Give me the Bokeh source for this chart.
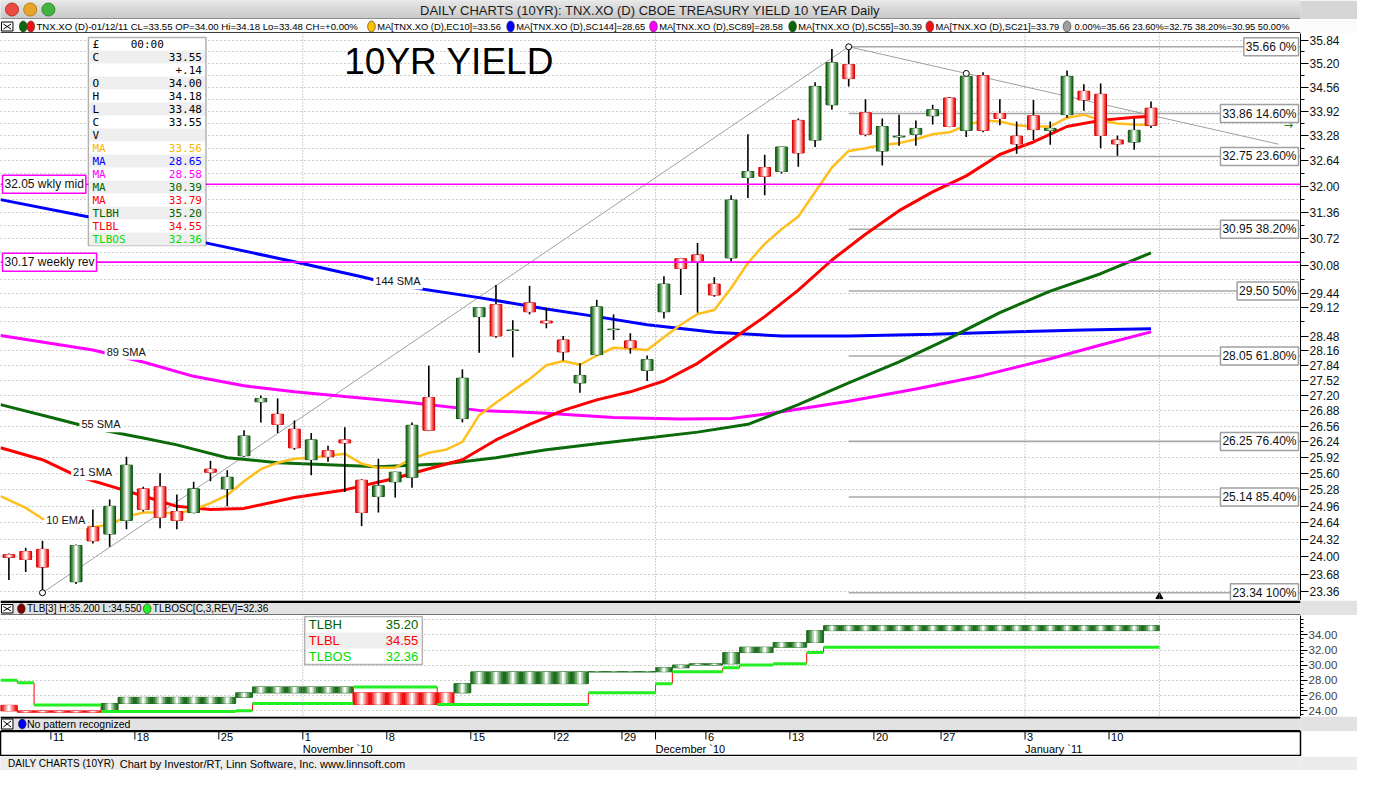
import numpy as np
import pandas as pd
from bokeh.plotting import figure
from bokeh.models import (Range1d, FixedTicker, PrintfTickFormatter, Label, LabelSet,
                          BoxAnnotation, ColumnDataSource, Span)
from bokeh.layouts import column
from bokeh.embed import file_html
from bokeh.resources import INLINE
from bokeh.core.properties import value

# ---------------- data ----------------
dates = ["2010-10-06", "2010-10-07", "2010-10-08", "2010-10-11", "2010-10-12", "2010-10-13", "2010-10-14",
         "2010-10-15", "2010-10-18", "2010-10-19", "2010-10-20", "2010-10-21", "2010-10-22", "2010-10-25",
         "2010-10-26", "2010-10-27", "2010-10-28", "2010-10-29",
         "2010-11-01", "2010-11-02", "2010-11-03", "2010-11-04", "2010-11-05", "2010-11-08", "2010-11-09",
         "2010-11-10", "2010-11-11", "2010-11-12", "2010-11-15", "2010-11-16", "2010-11-17", "2010-11-18",
         "2010-11-19", "2010-11-22", "2010-11-23", "2010-11-24", "2010-11-26", "2010-11-29", "2010-11-30",
         "2010-12-01", "2010-12-02", "2010-12-03", "2010-12-06", "2010-12-07", "2010-12-08", "2010-12-09",
         "2010-12-10", "2010-12-13", "2010-12-14", "2010-12-15", "2010-12-16", "2010-12-17", "2010-12-20",
         "2010-12-21", "2010-12-22", "2010-12-23", "2010-12-27", "2010-12-28", "2010-12-29", "2010-12-30",
         "2010-12-31",
         "2011-01-03", "2011-01-04", "2011-01-05", "2011-01-06", "2011-01-07", "2011-01-10", "2011-01-11",
         "2011-01-12"]

opens = [24.04, 24.10, 24.14, None, 23.54, 24.56, 24.43, 24.69, 25.30, 25.34, 24.86, 24.84, 25.69, 25.30,
         25.96, 27.07, 26.81, 26.50,
         25.88, 26.06, 26.28, 25.47, 25.15, 25.44, 25.53, 27.16, None, 26.72, 28.92, 29.19, 28.61, 29.23,
         28.82, 28.40, 27.47, 28.08, 28.63, 28.38, 27.74,
         29.03, 30.25, 30.34, 29.66, 30.27, 32.22, 32.47, 32.37, 33.68, 33.17, 34.09, 35.17, 33.88, 32.89,
         33.25, 33.32, 33.80, 34.27, 33.42, 34.87, 33.86, 33.27,
         33.80, 33.42, 33.83, 34.45, 34.37, 33.17, 33.12, 34.00]
highs = [24.06, 24.17, 24.30, None, 24.23, 24.90, 25.09, 25.94, 25.34, 25.61, 25.19, 25.44, 25.86, 25.67,
         26.48, 27.20, 27.14, 26.68,
         26.42, 26.16, 26.54, 25.49, 25.90, 25.64, 26.64, 27.84, None, 27.76, 29.13, 29.64, 28.84, 29.62,
         29.12, 28.49, 27.89, 29.30, 28.97, 28.55, 28.06,
         29.84, 30.27, 30.62, 29.82, 31.78, 33.32, 32.79, 33.00, 33.73, 34.69, 35.60, 35.66, 34.24, 33.73,
         33.83, 33.68, 34.09, 34.30, 34.93, 34.96, 34.24, 33.65,
         34.22, 33.65, 35.01, 34.64, 34.66, 33.29, 33.73, 34.18]
lows = [23.57, 23.72, 23.34, None, 23.50, 24.25, 24.19, 24.52, 24.86, 24.54, 24.52, 24.82, 25.45, 24.96,
        25.94, 26.64, 26.42, 26.08,
        25.57, 25.84, 25.24, 24.58, 24.84, 25.13, 25.32, 26.46, None, 26.64, 28.12, 28.45, 28.02, 28.97,
        28.66, 27.95, 27.26, 28.06, 28.40, 28.10, 27.51,
        28.88, 29.41, 29.01, 29.37, 30.18, 31.71, 31.78, 32.32, 32.49, 32.99, 33.96, 34.58, 33.27, 32.52,
        33.02, 33.02, 33.57, 33.50, 33.25, 33.37, 33.55, 32.82,
        33.17, 33.05, 33.75, 33.93, 32.96, 32.77, 32.92, 33.48]
closes = [23.99, 23.95, 23.81, None, 24.21, 24.30, 24.96, 25.77, 24.90, 24.75, 24.69, 25.30, 25.63, 25.53,
          26.36, 27.14, 26.60, 26.12,
          26.28, 25.94, 26.22, 24.84, 25.36, 25.63, 26.58, 26.48, None, 27.57, 29.12, 28.49, 28.62, 29.03,
          28.78, 28.14, 27.63, 29.14, 28.64, 28.23, 27.97,
          29.66, 30.02, 30.18, 29.41, 31.66, 32.37, 32.25, 32.99, 32.84, 34.58, 35.22, 34.79, 33.32, 33.52,
          33.27, 33.47, 33.96, 33.52, 34.85, 33.42, 33.73, 33.07,
          33.44, 33.47, 34.85, 34.22, 33.29, 33.07, 33.42, 33.55]

# moving averages (x = slot index)
ema10_i = [-0.5, 1, 2, 4, 5, 6, 7, 8, 9, 10, 11, 12, 13, 14, 15, 16, 17, 18, 19, 20, 21, 22, 23, 24, 25, 26,
           27, 28, 29, 30, 31, 32, 33, 34, 35, 36, 37, 38, 39, 40, 41, 42, 43, 44, 45, 46, 47, 48, 49, 50, 51,
           52, 53, 54, 55, 56, 57, 58, 59, 60, 61, 62, 63, 64, 65, 66, 67, 68]
ema10_v = [25.16, 24.93, 24.72, 24.56, 24.56, 24.61, 24.76, 24.84, 24.84, 24.82, 24.90, 25.02, 25.18, 25.45,
           25.69, 25.82, 25.90, 25.92, 25.96, 26.00, 25.80, 25.72, 25.72, 25.90, 26.02, 26.08, 26.24, 26.79,
           27.05, 27.30, 27.55, 27.85, 27.94, 27.86, 28.06, 28.23, 28.21, 28.18, 28.46, 28.74, 28.98, 29.07,
           29.57, 30.15, 30.60, 30.95, 31.26, 31.86, 32.47, 32.89, 32.96, 33.04, 33.09, 33.19, 33.32, 33.37,
           33.55, 33.68, 33.65, 33.55, 33.52, 33.52, 33.75, 33.83, 33.68, 33.60, 33.57, 33.56]
sma21_i = [-0.5, 2, 4, 6, 8, 10, 12, 14, 17, 20, 23, 25, 27, 29, 31, 33, 35, 37, 39, 41, 43, 45, 47, 49, 51,
           53, 55, 57, 59, 61, 63, 65, 67, 68]
sma21_v = [26.12, 25.88, 25.56, 25.36, 25.16, 24.96, 24.90, 24.92, 25.13, 25.28, 25.51, 25.70, 25.88, 26.28,
           26.60, 26.89, 27.11, 27.28, 27.51, 27.89, 28.40, 28.92, 29.52, 30.22, 30.83, 31.40, 31.86, 32.26,
           32.80, 33.12, 33.52, 33.68, 33.76, 33.79]
sma55_i = [-0.5, 3, 5, 8, 10, 13, 16, 19, 22, 26, 29, 32, 35, 38, 41, 44, 47, 50, 53, 56, 59, 62, 65, 68]
sma55_v = [27.01, 26.70, 26.52, 26.32, 26.18, 25.92, 25.82, 25.78, 25.74, 25.80, 25.92, 26.08, 26.20, 26.32,
           26.44, 26.60, 27.01, 27.47, 27.92, 28.44, 29.01, 29.50, 29.90, 30.39]
sma89_i = [-0.5, 5, 8, 11, 14, 17, 20, 24, 28, 32, 36, 40, 43, 46, 50, 54, 58, 62, 65, 68]
sma89_v = [28.50, 28.18, 27.92, 27.61, 27.41, 27.28, 27.18, 27.05, 26.89, 26.83, 26.74, 26.71, 26.72, 26.86,
           27.08, 27.34, 27.63, 27.99, 28.29, 28.58]
sma144_i = [-0.5, 5, 12, 17, 21, 23, 28, 32, 35, 38, 42, 46, 50, 55, 60, 64, 68]
sma144_v = [31.67, 31.23, 30.60, 30.18, 29.83, 29.64, 29.35, 29.09, 28.92, 28.74, 28.57, 28.49, 28.49, 28.53,
            28.58, 28.62, 28.65]

# fibonacci retracement and weekly levels
fib_pcts = ["0%", "14.60%", "23.60%", "38.20%", "50%", "61.80%", "76.40%", "85.40%", "100%"]
fib_vals = [35.66, 33.86, 32.75, 30.95, 29.50, 28.05, 26.25, 25.14, 23.34]
level_vals = [32.05, 30.17]
level_names = ["wkly mid", "weekly rev"]
trend_dates = ["2010-10-08", "2010-12-16", "2010-12-28"]

# three line break boxes (lower panel)
tlb_start = [0, 1, 6, 7, 14, 15, 21, 27, 28, 35, 39, 40, 41, 43, 44, 46, 48, 49]
tlb_end = [0, 5, 6, 13, 14, 20, 26, 27, 34, 38, 39, 40, 42, 43, 45, 47, 48, 68]
tlb_from = [24.72, 23.99, 23.99, 24.96, 25.77, 26.36, 26.36, 26.36, 27.57, 29.12, 29.14, 29.66, 30.02, 30.18,
            31.66, 32.37, 32.99, 34.55]
tlb_to = [23.99, 23.81, 24.96, 25.77, 26.36, 27.14, 24.84, 27.57, 29.12, 29.14, 29.66, 30.02, 30.18, 31.66,
          32.37, 32.99, 34.55, 35.20]
tlbos_start = [0, 1, 2, 6, 14, 15, 21, 26, 35, 39, 40, 43, 44, 46, 48, 49]
tlbos_end = [0, 1, 5, 13, 14, 20, 25, 34, 38, 39, 42, 43, 45, 47, 48, 68]
tlbos_val = [28.03, 27.68, 24.76, 23.90, 24.00, 24.96, 27.14, 24.84, 26.36, 27.57, 29.14, 29.66, 30.02, 30.18,
             31.66, 32.36]

# axis tick labels
main_tick_labels = [35.84, 35.20, 34.56, 33.92, 33.28, 32.64, 32.00, 31.36, 30.72, 30.08, 29.44, 29.12,
                    28.48, 28.16, 27.84, 27.52, 27.20, 26.88, 26.56, 26.24, 25.92, 25.60, 25.28, 24.96,
                    24.64, 24.32, 24.00, 23.68, 23.36]
low_tick_labels = [24.0, 26.0, 28.0, 30.0, 32.0, 34.0]

info_labels = ["C", "", "O", "H", "L", "C", "V", "MA", "MA", "MA", "MA", "MA", "TLBH", "TLBL", "TLBOS"]
info_values = ["33.55", "+.14", "34.00", "34.18", "33.48", "33.55", "", "33.56", "28.65", "28.58", "30.39",
               "33.79", "35.20", "34.55", "32.36"]
info_colors = ["black"] * 7 + ["#f5b800", "#0000ff", "#ff00ff", "#006400", "#ff0000", "#006400", "#ff0000",
                               "#00dd00"]

# ---------------- layout constants ----------------
W, RA = 1357, 57
FW = W - RA
SX = FW / 1316.0
H_TITLE, H_LEG, H_MAIN, H_LHDR, H_LOW, H_PAT, H_AX, H_STAT = 19, 14, 567, 15, 101, 15, 25, 14
FONT = "Liberation Sans"
MONO = "DejaVu Sans Mono"
XR = Range1d(-0.5, 76.9)

C_EMA, C_144, C_89, C_55, C_21 = "#ffbf1f", "#0000ff", "#ff00ff", "#0b6b0b", "#ff0000"
C_FIB = "#a8a8a8"

idx = np.arange(len(dates))
dt = pd.to_datetime(pd.Series(dates))
df = pd.DataFrame(dict(i=idx, o=opens, h=highs, l=lows, c=closes)).dropna()
up = df[df.c >= df.o]
dn = df[df.c < df.o]
month_first = idx[(dt.dt.month != dt.dt.month.shift(1)).values][1:]
mondays = idx[(dt.dt.weekday == 0).values]
last_edge = len(dates) - 0.5
vlines = [m - 0.5 for m in month_first] + [last_edge]
grid_vals = [round(23.36 + 0.32 * k, 2) for k in range(40)]
minor_vals = [g for g in grid_vals if g not in main_tick_labels]


def base_fig(h, **kw):
    f = figure(width=W, height=h, output_backend="svg", toolbar_location=None,
               min_border_left=0, min_border_top=0, min_border_bottom=0,
               border_fill_color="white", background_fill_color="white", **kw)
    return f


# ---------------- main price panel ----------------
p = base_fig(H_MAIN, x_range=XR, y_range=Range1d(23.20, 36.03), y_axis_type="log",
             y_axis_location="right", x_axis_location=None, min_border_right=RA, outline_line_color=None)
p.xgrid.visible = False
p.ygrid.ticker = FixedTicker(ticks=grid_vals)
p.ygrid.grid_line_color = "#9c9c9c"
p.ygrid.grid_line_dash = "1 3"
ya = p.yaxis[0]
ya.ticker = FixedTicker(ticks=main_tick_labels, minor_ticks=minor_vals)
ya.formatter = PrintfTickFormatter(format="%.2f")
ya.major_label_text_font = FONT
ya.major_label_text_font_size = "12px"
ya.major_label_text_color = "#111111"
ya.major_label_standoff = 1
ya.major_tick_out = 8
ya.major_tick_in = 0
ya.minor_tick_out = 4
ya.minor_tick_in = 0
ya.axis_line_color = "black"
ya.major_tick_line_color = "black"
ya.minor_tick_line_color = "black"

for v in vlines:
    p.add_layout(Span(location=v, dimension="height", line_color="#a0a0a0", line_dash="1 2", line_width=1))
for v in level_vals:
    p.add_layout(Span(location=v, dimension="width", line_color="#ff00ff", line_width=1.6))

# fib lines
i_lo = int(idx[dates.index(trend_dates[0])])
i_hi = int(idx[dates.index(trend_dates[1])])
i_h2 = int(idx[dates.index(trend_dates[2])])
v_lo = lows[i_lo]
v_hi = highs[i_hi]
v_h2 = highs[i_h2]
p.segment(x0=[i_hi] * len(fib_vals), x1=[XR.end] * len(fib_vals), y0=fib_vals, y1=fib_vals,
          line_color=C_FIB, line_width=1.6)
# trend lines
x_ext = 75.6
slope = (np.log(v_h2) - np.log(v_hi)) / (i_h2 - i_hi)
v_ext = float(np.exp(np.log(v_hi) + slope * (x_ext - i_hi)))
p.line([i_lo, i_hi], [v_lo, v_hi], line_color="#a0a0a0", line_width=1)
p.line([i_hi, x_ext], [v_hi, v_ext], line_color="#a0a0a0", line_width=1)

# moving averages
p.line(sma144_i, sma144_v, line_color=C_144, line_width=3)
p.line(sma89_i, sma89_v, line_color=C_89, line_width=3)
p.line(sma55_i, sma55_v, line_color=C_55, line_width=3)
p.line(sma21_i, sma21_v, line_color=C_21, line_width=3)
p.line(ema10_i, ema10_v, line_color=C_EMA, line_width=2.5)

# candles
p.segment(x0="i", x1="i", y0="l", y1="h", source=ColumnDataSource(df), line_color="black", line_width=1.6)
green_layers = [(0.70, "#1f6c1f"), (0.56, "#3f863f"), (0.42, "#79ad79"), (0.28, "#b9d6b9"), (0.13, "#ffffff")]
red_layers = [(0.70, "#ee1010"), (0.56, "#f24646"), (0.42, "#f68484"), (0.28, "#fbc2c2"), (0.13, "#ffffff")]
for k, (w, col) in enumerate(green_layers):
    p.vbar(x=up.i, bottom=up.o, top=up.c, width=w, fill_color=col,
           line_color="#0d4a0d" if k == 0 else None, line_width=1)
for k, (w, col) in enumerate(red_layers):
    p.vbar(x=dn.i, bottom=dn.c, top=dn.o, width=w, fill_color=col,
           line_color="#d00000" if k == 0 else None, line_width=1)

# trend pivots
p.scatter([i_lo, i_hi, i_h2], [v_lo, v_hi, v_h2], size=6, marker="circle", fill_color="white",
          line_color="black", line_width=1)
p.scatter([last_edge], [23.27], marker="triangle", size=7, fill_color="black", line_color="black")

# MA labels
for txt_, xi, yv in [("144 SMA", 21.7, 29.72), ("89 SMA", 5.7, 28.14), ("55 SMA", 4.2, 26.60),
                     ("21 SMA", 3.7, 25.63), ("10 EMA", 2.1, 24.69)]:
    p.add_layout(Label(x=xi, y=yv, text=txt_, text_font=FONT, text_font_size="11px", text_color="#111111",
                       text_baseline="middle", text_align="left", background_fill_color="white",
                       padding=2))

# fib labels
for v, pc in zip(fib_vals, fib_pcts):
    p.add_layout(Label(x=XR.end, x_offset=-2, y=v, text="%.2f %s" % (v, pc), text_font=FONT,
                       text_font_size="12px", text_color="#111111", text_align="right",
                       text_baseline="middle", background_fill_color="white", border_line_color="#a0a0a0",
                       border_line_width=1.5, padding=2))
for v, nm in zip(level_vals, level_names):
    p.add_layout(Label(x=XR.start, x_offset=2, y=v, text="%.2f %s" % (v, nm), text_font=FONT,
                       text_font_size="12px", text_color="#111111", text_align="left",
                       text_baseline="middle", background_fill_color="white", border_line_color="#ff00ff",
                       border_line_width=1.5, padding=2))

# title text
p.add_layout(Label(x=348 * SX, y=H_MAIN - 28, x_units="screen", y_units="screen", text="10YR YIELD",
                   text_font=FONT, text_font_size="37px", text_color="black", text_baseline="middle"))

# last price tag
p.add_layout(Label(x=FW + 7, x_units="screen", y=closes[-1], text="%.2f" % closes[-1], text_font=FONT,
                   text_font_size="12px", text_color="white", text_baseline="middle",
                   background_fill_color="black", padding=1))
p.add_layout(Label(x=FW + 0, x_units="screen", y=closes[-1], text="\u25C0", text_font="DejaVu Sans",
                   text_font_size="10px", text_color="#1e7e1e", text_baseline="middle"))
p.add_layout(Label(x=75.9, y=closes[-1], text="\u2192", text_font="DejaVu Sans", text_font_size="11px",
                   text_color="#1e7e1e", text_baseline="middle"))
p.add_layout(Label(x=FW + 45, x_units="screen", y=H_MAIN - 12, y_units="screen", text="A",
                   text_font=FONT, text_font_size="11px", text_color="black", border_line_color="black",
                   background_fill_color="white", padding=1))

# info box
bx0, bx1 = 89 * SX, 208 * SX
ytop = H_MAIN - 4
rh = 13
p.add_layout(BoxAnnotation(left=bx0, right=bx1, top=ytop, bottom=ytop - 16 * rh,
                           left_units="screen", right_units="screen", top_units="screen",
                           bottom_units="screen", fill_color="white", fill_alpha=1,
                           line_color="black", line_width=1.5))
for r in range(1, 16, 2):
    p.add_layout(BoxAnnotation(left=bx0 + 1, right=bx1 - 1, top=ytop - r * rh, bottom=ytop - (r + 1) * rh,
                               left_units="screen", right_units="screen", top_units="screen",
                               bottom_units="screen", fill_color="#efefef", fill_alpha=1, line_color=None))
rows_y = [ytop - rh * (k + 1) - rh / 2 for k in range(len(info_labels))]
src_l = ColumnDataSource(dict(x=[bx0 + 4] * len(info_labels), y=rows_y, t=info_labels, c=info_colors))
src_v = ColumnDataSource(dict(x=[bx1 - 4] * len(info_values), y=rows_y, t=info_values, c=info_colors))
p.add_layout(LabelSet(x="x", y="y", text="t", text_color="c", source=src_l, x_units="screen",
                      y_units="screen", text_font=value(MONO), text_font_size=value("11px"),
                      text_baseline="middle", text_align="left"))
p.add_layout(LabelSet(x="x", y="y", text="t", text_color="c", source=src_v, x_units="screen",
                      y_units="screen", text_font=value(MONO), text_font_size=value("11px"),
                      text_baseline="middle", text_align="right"))
p.add_layout(Label(x=bx0 + 4, y=ytop - rh / 2, x_units="screen", y_units="screen", text="\u00A3",
                   text_font=MONO, text_font_size="11px", text_baseline="middle", text_color="black"))
p.add_layout(Label(x=(bx0 + bx1) / 2, y=ytop - rh / 2, x_units="screen", y_units="screen", text="00:00",
                   text_font=MONO, text_font_size="11px", text_baseline="middle", text_align="center",
                   text_color="black"))

# ---------------- lower TLB panel ----------------
q = base_fig(H_LOW, x_range=XR, y_range=Range1d(23.25, 36.54), y_axis_location="right",
             x_axis_location=None, min_border_right=RA, outline_line_color=None)
q.xgrid.visible = False
q.ygrid.ticker = FixedTicker(ticks=[24, 26, 28, 30, 32, 34, 36])
q.ygrid.grid_line_color = "#9c9c9c"
q.ygrid.grid_line_dash = "1 3"
qa = q.yaxis[0]
qa.ticker = FixedTicker(ticks=low_tick_labels, minor_ticks=[23.5 + 0.5 * k for k in range(26)])
qa.formatter = PrintfTickFormatter(format="%.2f")
qa.major_label_text_font = FONT
qa.major_label_text_font_size = "11.5px"
qa.major_label_text_baseline = "bottom"
qa.major_label_standoff = 1
qa.major_tick_out = 7
qa.major_tick_in = 0
qa.minor_tick_out = 3
qa.minor_tick_in = 0
qa.axis_line_color = "black"
for v in vlines:
    q.add_layout(Span(location=v, dimension="height", line_color="#a0a0a0", line_dash="1 2", line_width=1))
q.add_layout(Label(x=FW + 45, x_units="screen", y=H_LOW - 14, y_units="screen", text="A",
                   text_font=FONT, text_font_size="11px", text_color="black", border_line_color="black",
                   background_fill_color="white", padding=1))

rows_up, rows_dn = dict(x=[], b=[], t=[]), dict(x=[], b=[], t=[])
for s, e, a, b in zip(tlb_start, tlb_end, tlb_from, tlb_to):
    tgt = rows_up if b > a else rows_dn
    for k in range(s, e + 1):
        tgt["x"].append(k)
        tgt["b"].append(min(a, b))
        tgt["t"].append(max(a, b))
g2 = [(1.0, "#1f6c1f"), (0.78, "#3f863f"), (0.56, "#79ad79"), (0.34, "#b9d6b9"), (0.14, "#ffffff")]
r2 = [(1.0, "#ee1010"), (0.78, "#f24646"), (0.56, "#f68484"), (0.34, "#fbc2c2"), (0.14, "#ffffff")]
for k, (w, col) in enumerate(g2):
    q.vbar(x=rows_up["x"], bottom=rows_up["b"], top=rows_up["t"], width=w, fill_color=col,
           line_color="#1f6c1f" if k == 0 else None, line_width=1)
for k, (w, col) in enumerate(r2):
    q.vbar(x=rows_dn["x"], bottom=rows_dn["b"], top=rows_dn["t"], width=w, fill_color=col,
           line_color="#ee1010" if k == 0 else None, line_width=1)
q.segment(x0=[s - 0.5 for s in tlbos_start[1:]], x1=[s - 0.5 for s in tlbos_start[1:]],
          y0=tlbos_val[:-1], y1=tlbos_val[1:], line_color="#ff0000", line_width=1)
q.segment(x0=[s - 0.5 for s in tlbos_start], x1=[e + 0.5 for e in tlbos_end], y0=tlbos_val, y1=tlbos_val,
          line_color="#22ee22", line_width=3)

lx0, lx1 = 308 * SX, 427 * SX
ltop = H_LOW - 1
lrh = 16
q.add_layout(BoxAnnotation(left=lx0, right=lx1, top=ltop, bottom=ltop - 3 * lrh, left_units="screen",
                           right_units="screen", top_units="screen", bottom_units="screen",
                           fill_color="white", fill_alpha=1, line_color="black", line_width=1.5))
q.add_layout(BoxAnnotation(left=lx0 + 1, right=lx1 - 1, top=ltop - lrh, bottom=ltop - 2 * lrh,
                           left_units="screen", right_units="screen", top_units="screen",
                           bottom_units="screen", fill_color="#efefef", fill_alpha=1, line_color=None))
lg_y = [ltop - lrh * (k + 0.5) for k in range(3)]
q.add_layout(LabelSet(x="x", y="y", text="t", text_color="c", x_units="screen", y_units="screen",
                      source=ColumnDataSource(dict(x=[lx0 + 4] * 3, y=lg_y, t=info_labels[-3:],
                                                   c=info_colors[-3:])),
                      text_font=value(FONT), text_font_size=value("13px"), text_baseline="middle",
                      text_align="left"))
q.add_layout(LabelSet(x="x", y="y", text="t", text_color="c", x_units="screen", y_units="screen",
                      source=ColumnDataSource(dict(x=[lx1 - 4] * 3, y=lg_y, t=info_values[-3:],
                                                   c=info_colors[-3:])),
                      text_font=value(FONT), text_font_size=value("13px"), text_baseline="middle",
                      text_align="right"))


# ---------------- bars ----------------
def bar_fig(h, bg):
    f = figure(width=W, height=h, x_range=Range1d(0, W), y_range=Range1d(0, h), x_axis_location=None,
               y_axis_location=None, toolbar_location=None, output_backend="svg", min_border=0,
               background_fill_color=bg, border_fill_color=bg, outline_line_color=None)
    f.xgrid.visible = False
    f.ygrid.visible = False
    return f


def xbox(f, h):
    f.quad(left=[1], right=[13], bottom=[2.5], top=[h - 2.5], fill_color="white", line_color="black",
           line_width=1)
    f.segment(x0=[3, 3], y0=[4.5, h - 4.5], x1=[11, 11], y1=[h - 4.5, 4.5], line_color="black", line_width=1)


def txt(f, x, y, s, size="10px", color="black", align="left", font=FONT):
    f.text(x=[x], y=[y], text=[s], text_font=value(font), text_font_size=size, text_color=color,
           text_align=align, text_baseline="middle")


# title bar
tb = bar_fig(H_TITLE, "#d6d6d6")
nb = H_TITLE
shades = np.linspace(236, 196, nb).astype(int)
tb.quad(left=[0] * nb, right=[W] * nb, bottom=list(range(nb - 1, -1, -1)), top=list(range(nb, 0, -1)),
        fill_color=["#%02x%02x%02x" % (s, s, s) for s in shades], line_color=None)
tb.quad(left=[0], right=[W], bottom=[0], top=[1], fill_color="#555555", line_color=None)
tb.scatter([12, 31, 50], [H_TITLE / 2 + 0.5] * 3, size=13, marker="circle",
           fill_color=["#ec4b42", "#e9a52a", "#43b341"], line_color=["#b1332b", "#b27d19", "#2e8a2c"])
txt(tb, W / 2, H_TITLE / 2, "DAILY CHARTS (10YR): TNX.XO (D) CBOE TREASURY YIELD 10 YEAR Daily", "13px",
    "#1a1a1a", "center")

# legend bar
lb = bar_fig(H_LEG, "#fbfbfb")
lb.quad(left=[0], right=[W], bottom=[0], top=[1.2], fill_color="black", line_color=None)
xbox(lb, H_LEG)
leg_items = [(24, "#0a6a0a", None, None),
             (32, "#ee1111", (38, "TNX.XO (D)-01/12/11 CL=33.55 OP=34.00 Hi=34.18 Lo=33.48 CH=+0.00%"), "9.6px"),
             (392, "#ffc000", (398, "MA[TNX.XO (D),EC10]=33.56"), "9.3px"),
             (539, "#0000ff", (545, "MA[TNX.XO (D),SC144]=28.65"), "9.3px"),
             (690, "#ff00ff", (696, "MA[TNX.XO (D),SC89]=28.58"), "9.3px"),
             (837, "#0a6a0a", (843, "MA[TNX.XO (D),SC55]=30.39"), "9.3px"),
             (982, "#ee1111", (988, "MA[TNX.XO (D),SC21]=33.79"), "9.3px"),
             (1127, "#a0a0a0", (1135, "0.00%=35.66 23.60%=32.75 38.20%=30.95 50.00%"), "9.3px")]
for cx, col, tx, fs in leg_items:
    lb.ellipse(x=[cx * SX], y=[H_LEG / 2], width=8, height=11, fill_color=col, line_color="#333333",
               line_width=0.6)
    if tx:
        txt(lb, tx[0] * SX, H_LEG / 2, tx[1], fs)

# lower header bar
lh = bar_fig(H_LHDR, "#e2e2e2")
lh.quad(left=[0], right=[W], bottom=[H_LHDR - 2.5], top=[H_LHDR], fill_color="black", line_color=None)
lh.quad(left=[0], right=[W], bottom=[0], top=[1], fill_color="black", line_color=None)
xbox(lh, H_LHDR - 1.5)
lh.ellipse(x=[22 * SX], y=[(H_LHDR - 1.5) / 2], width=8, height=10, fill_color="#7a0000", line_color="#333333",
           line_width=0.6)
txt(lh, 28 * SX, (H_LHDR - 1.5) / 2, "TLB[3] H:35.200 L:34.550", "10px")
lh.ellipse(x=[155 * SX], y=[(H_LHDR - 1.5) / 2], width=8, height=10, fill_color="#22ee22", line_color="#333333",
           line_width=0.6)
txt(lh, 161 * SX, (H_LHDR - 1.5) / 2, "TLBOSC[C,3,REV]=32.36", "10px")

# pattern bar
pb = bar_fig(H_PAT, "#e2e2e2")
pb.quad(left=[0], right=[W], bottom=[H_PAT - 2], top=[H_PAT], fill_color="black", line_color=None)
pb.quad(left=[0], right=[W], bottom=[0], top=[1.5], fill_color="black", line_color=None)
xbox(pb, H_PAT)
pb.ellipse(x=[23 * SX], y=[H_PAT / 2], width=8, height=10, fill_color="#0000ee", line_color="#333333",
           line_width=0.6)
txt(pb, 28 * SX, H_PAT / 2, "No pattern recognized", "10.5px")

# date axis
ax = figure(width=W, height=H_AX, x_range=XR, y_range=Range1d(0, H_AX), x_axis_location=None,
            y_axis_location=None, toolbar_location=None, output_backend="svg", min_border_left=0,
            min_border_top=0, min_border_bottom=0, min_border_right=RA, background_fill_color="white",
            border_fill_color="white", outline_line_color="black", outline_line_width=1.5)
ax.xgrid.visible = False
ax.ygrid.visible = False
tick_pos = sorted(set([m - 0.5 for m in mondays] + [m - 0.5 for m in month_first]))
ax.segment(x0=tick_pos, x1=tick_pos, y0=[H_AX] * len(tick_pos), y1=[H_AX - 8] * len(tick_pos),
           line_color="black", line_width=1)
ax.text(x=[m - 0.5 for m in mondays], y=[H_AX - 1.5] * len(mondays),
        text=[str(dt[m].day) for m in mondays], x_offset=2, text_font=value(FONT), text_font_size="11px",
        text_color="black", text_baseline="top", text_align="left")
ax.text(x=[m - 0.5 for m in month_first], y=[H_AX - 11] * len(month_first),
        text=[dt[m].strftime("%B `%y") for m in month_first], x_offset=0, text_font=value(FONT),
        text_font_size="11px", text_color="black", text_baseline="top", text_align="left")

# status bar
sb = bar_fig(H_STAT, "#ececec")
txt(sb, 8 * SX, H_STAT / 2, "DAILY CHARTS (10YR)", "10px")
txt(sb, 126 * SX, H_STAT / 2, "Chart by Investor/RT, Linn Software, Inc. www.linnsoft.com", "11px")

layout = column(tb, lb, p, lh, q, pb, ax, sb, spacing=0)
open("out.html", "w").write(file_html(layout, INLINE, "TNX 10YR YIELD"))
